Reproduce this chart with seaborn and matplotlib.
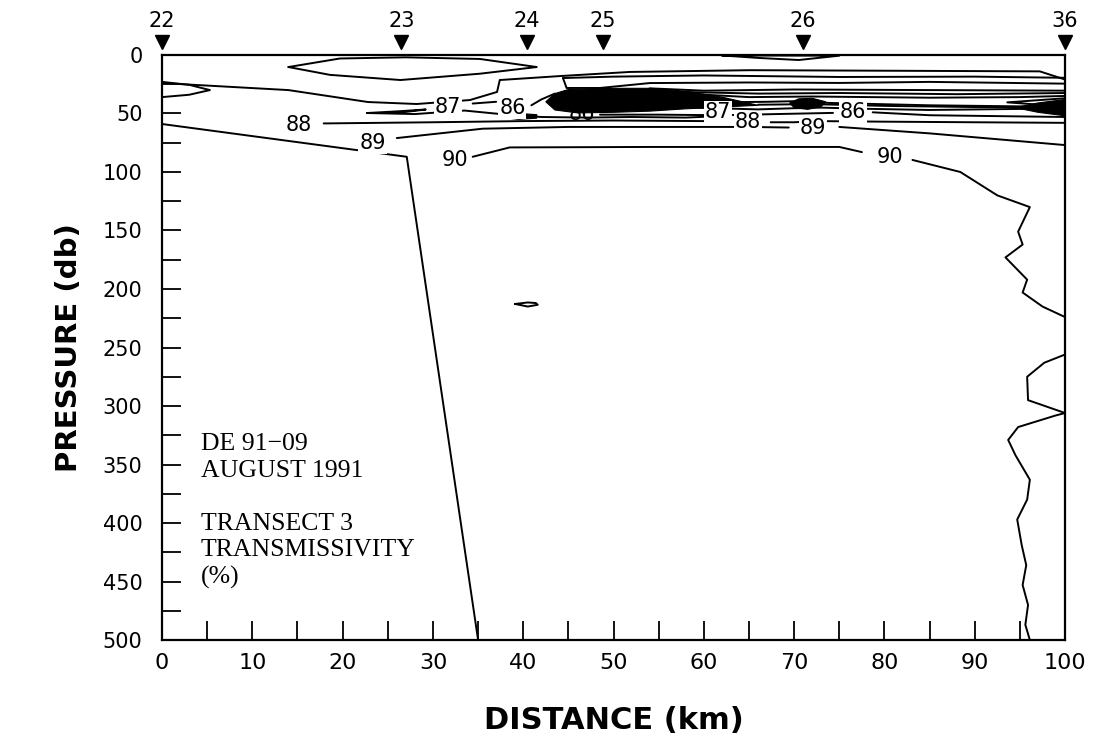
import numpy as np
import pandas as pd
import seaborn as sns
import matplotlib.pyplot as plt

# Stations along the transect (km) and their names
station_km = [0, 26.5, 40.4, 48.8, 71.0, 100]
station_names = ["22", "23", "24", "25", "26", "36"]

# Bottom / data limit line
bottom_km = [0, 27.1, 35.0]
bottom_db = [59, 87, 500]

# Contour lines (distance km, pressure db)
lens_km = [14.0, 19.7, 27.0, 35.2, 41.5, 35.2, 26.4, 18.6, 14.0]
lens_db = [10.3, 3.0, 2.0, 3.4, 10.3, 16.0, 21.4, 17.0, 10.3]

top26_km = [62.0, 66.0, 70.5, 75.0, 62.0]
top26_db = [0.4, 2.5, 4.3, 0.6, 0.4]

wedge_km = [0, 3.0, 5.3, 3.0, 0]
wedge_db = [23, 25.5, 30, 34, 36]

la_km = [0, 14, 22.8, 28.2, 34.1, 37.1, 37.4, 44.1, 51.8, 65.1, 81.7, 97.2, 100]
la_db = [24, 30, 40.2, 41.9, 38.5, 31.6, 21.4, 18.0, 14.5, 13.0, 13.5, 14.0, 21.0]

la2_km = [44.4, 50, 60, 75, 90, 100]
la2_db = [19.7, 18.5, 17.5, 18.8, 18.5, 19.5]

lb_km = [44.4, 44.8, 48.5, 54, 65, 75, 85, 100]
lb_db = [19.7, 28.2, 28.2, 24.0, 23.5, 23.9, 23.0, 24.5]

lc_km = [54, 60, 70, 85, 100]
lc_db = [28.5, 30.5, 29.5, 30.0, 30.5]

lc2_km = [57, 66, 75, 88, 100]
lc2_db = [31.5, 33.0, 32.5, 33.5, 32.5]

ld_km = [59, 65, 72, 85, 95, 100]
ld_db = [33.5, 36.0, 35.5, 36.5, 36.0, 35.0]

le_km = [61, 67, 70, 74, 85, 96]
le_db = [40.5, 40.0, 39.5, 41.0, 43.0, 44.0]

le2_km = [66, 72, 80, 90, 97]
le2_db = [42.5, 42.0, 43.5, 44.5, 44.5]

lf_km = [59, 66, 70, 73, 78, 85, 96]
lf_db = [45.0, 46.5, 45.5, 45.0, 46.0, 47.0, 46.0]

lw_km = [100, 93.6, 100]
lw_db = [37.0, 40.5, 44.0]

l86_km = [48.5, 55, 62, 68, 74.3]
l86_db = [51.0, 51.0, 51.5, 50.5, 49.5]
l86b_km = [78.7, 85, 95, 100]
l86b_db = [49.0, 51.5, 52.5, 53.0]

l87a_km = [22.7, 26.0, 29.2, 26.0, 22.7]
l87a_db = [49.6, 48.2, 46.6, 49.6, 49.6]
l87b_km = [34.4, 37.0]
l87b_db = [41.5, 40.0]
l87c_km = [40.9, 42.0, 43.5]
l87c_db = [43.0, 38.0, 33.0]
l87d_km = [22.7, 28.0, 33.5, 37.5, 42.0, 47.0, 52.0, 58.0, 61.0]
l87d_db = [49.6, 50.5, 47.5, 50.5, 53.0, 53.5, 53.0, 53.5, 52.5]

l88_km = [17.9, 30, 40, 50, 60, 62.3]
l88_db = [58.5, 57.5, 56.5, 56.0, 56.5, 57.0]
l88b_km = [67.4, 70, 72.5, 80, 90, 100]
l88b_db = [57.5, 57.5, 56.5, 57.0, 57.5, 58.0]

l89_km = [26.0, 35.5, 45, 55, 65, 69.4]
l89_db = [71.0, 63.0, 61.5, 61.5, 61.5, 62.0]
l89b_km = [75.0, 85, 100]
l89b_db = [61.5, 67.0, 77.0]

l90_km = [34.4, 38.5, 54, 75, 77.5]
l90_db = [87.0, 79.0, 78.6, 78.6, 83.0]
l90b_km = [83.1, 88.4, 92.5, 96.1, 94.8, 95.3, 93.4, 95.8, 95.3, 97.5, 100]
l90b_db = [89.7, 100, 120, 130, 151, 162, 173, 192, 203, 215, 224]
l90c_km = [100, 97.7, 95.8, 95.9, 100]
l90c_db = [256, 263, 275, 295, 306]
l90d_km = [100, 99.0, 94.8, 93.7, 94.5, 96.1, 95.8, 94.7, 95.2, 95.7, 95.3, 95.9, 95.6, 96.1]
l90d_db = [306, 308, 318, 329, 342, 363, 380, 397, 419, 436, 453, 470, 487, 500]

spot_km = [39.1, 40.5, 41.4, 41.6, 40.5, 39.1]
spot_db = [212.8, 211.5, 212.0, 213.5, 215.0, 212.8]

# Areas where the contours are so dense they merge to black
blob1_km = [43.5, 45, 50, 54, 58, 62, 66, 62, 58, 54, 50, 46, 43.5, 42.5]
blob1_db = [33, 29.5, 28.5, 28.5, 31, 36, 43, 44.5, 46, 48, 49, 49.5, 47, 40]
blob2_km = [69.5, 70.5, 72, 73.5, 73, 71.5, 70]
blob2_db = [41, 37.5, 37, 40, 44, 46.5, 45]
blob3_km = [94.5, 97, 100, 100, 97]
blob3_db = [45, 41, 38, 52, 49]
blob4_km = [37.8, 39.5, 41.5, 41.5, 39.5, 37.8]
blob4_db = [52, 50, 51, 54, 55, 53.5]

# Contour labels
label_text = ["88", "89", "90", "87", "86", "87", "88", "89", "86", "90"]
label_km = [15.1, 23.3, 32.4, 31.7, 38.8, 61.6, 64.9, 72.1, 76.5, 80.6]
label_db = [59.8, 75.2, 89.7, 44.4, 45.3, 49.0, 57.0, 62.4, 48.5, 87.2]

lines = [
    (lens_km, lens_db), (top26_km, top26_db), (wedge_km, wedge_db),
    (la_km, la_db), (la2_km, la2_db), (lb_km, lb_db), (lc_km, lc_db),
    (lc2_km, lc2_db), (ld_km, ld_db), (le_km, le_db), (le2_km, le2_db),
    (lf_km, lf_db), (lw_km, lw_db),
    (l86_km, l86_db), (l86b_km, l86b_db),
    (l87a_km, l87a_db), (l87b_km, l87b_db), (l87c_km, l87c_db), (l87d_km, l87d_db),
    (l88_km, l88_db), (l88b_km, l88b_db), (l89_km, l89_db), (l89b_km, l89b_db),
    (l90_km, l90_db), (l90b_km, l90b_db), (l90c_km, l90c_db), (l90d_km, l90d_db),
    (spot_km, spot_db), (bottom_km, bottom_db),
]
rows = []
for i, (xs, ys) in enumerate(lines):
    for x, y in zip(xs, ys):
        rows.append({"km": x, "db": y, "seg": i})
df = pd.DataFrame(rows)

sns.set_theme(style="white")
plt.rcParams['font.family'] = ['DejaVu Sans']
plt.rcParams['text.color'] = 'black'
plt.rcParams['axes.labelcolor'] = 'black'
plt.rcParams['xtick.color'] = 'black'
plt.rcParams['ytick.color'] = 'black'

fig = plt.figure(figsize=(10.97, 7.43), dpi=100)
ax = fig.add_axes([0.1477, 0.1386, 0.8232, 0.7874])

sns.lineplot(data=df, x="km", y="db", units="seg", estimator=None, sort=False,
             color="black", lw=1.4, legend=False, ax=ax)

for bx, by in [(blob1_km, blob1_db), (blob2_km, blob2_db),
               (blob3_km, blob3_db), (blob4_km, blob4_db)]:
    ax.fill(bx, by, color="black", lw=0.8, zorder=3)

# half-hidden label under the dense patch
ax.text(46.5, 50.5, "86", ha="center", va="center", fontsize=15, zorder=2)

for t, x, y in zip(label_text, label_km, label_db):
    ax.text(x, y, t, ha="center", va="center", fontsize=15, zorder=4,
            bbox=dict(fc="white", ec="none", pad=0.6))

# station markers above the plot
ax.plot(station_km, [1.022] * len(station_km), "v", color="black", ms=10,
        transform=ax.get_xaxis_transform(), clip_on=False)
for x, name in zip(station_km, station_names):
    ax.text(x, 1.058, name, ha="center", va="center", fontsize=15,
            transform=ax.get_xaxis_transform())

ax.text(4.3, 323, "DE 91\u221209\nAUGUST 1991\n\nTRANSECT 3\nTRANSMISSIVITY\n(%)",
        ha="left", va="top", fontsize=18.5, linespacing=1.27,
        family=["Liberation Serif", "DejaVu Serif"])

ax.set_xlim(0, 100)
ax.set_ylim(500, 0)
ax.set_xticks(np.arange(0, 101, 10))
ax.set_xticks(np.arange(0, 101, 5), minor=True)
ax.set_yticks(np.arange(0, 501, 50))
ax.set_yticks(np.arange(0, 501, 25), minor=True)
ax.tick_params(which="both", direction="in", length=14, width=1.3, color="black",
               top=False, right=False, left=True, bottom=True)
ax.tick_params(axis="y", which="major", labelsize=15, pad=14)
ax.tick_params(axis="x", which="major", labelsize=16, pad=9)

for sp in ax.spines.values():
    sp.set_color("black")
    sp.set_linewidth(1.6)

ax.set_xlabel("DISTANCE (km)", fontsize=22, fontweight="bold", labelpad=24)
ax.set_ylabel("PRESSURE (db)", fontsize=21, fontweight="bold", labelpad=14)

fig.savefig("out.png", dpi=100)
